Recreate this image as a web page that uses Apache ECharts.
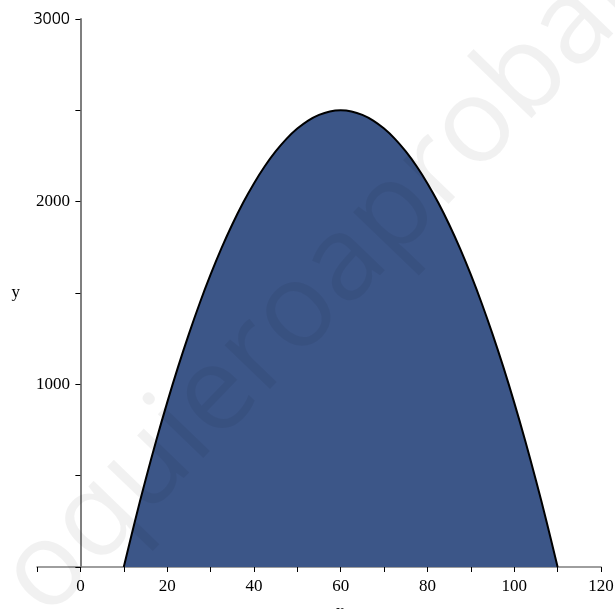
<!DOCTYPE html>
<html><head><meta charset="utf-8">
<script src="https://cdn.jsdelivr.net/npm/echarts@6/dist/echarts.min.js"></script>
<style>html,body{margin:0;padding:0;background:#fff}#c{width:615px;height:609px}</style>
</head><body><div id="c"></div>
<script>
const xValues = [10,12.5,15,17.5,20,22.5,25,27.5,30,32.5,35,37.5,40,42.5,45,47.5,50,52.5,55,57.5,60,62.5,65,67.5,70,72.5,75,77.5,80,82.5,85,87.5,90,92.5,95,97.5,100,102.5,105,107.5,110];
const yValues = [0,244,475,694,900,1094,1275,1444,1600,1744,1875,1994,2100,2194,2275,2344,2400,2444,2475,2494,2500,2494,2475,2444,2400,2344,2275,2194,2100,1994,1875,1744,1600,1444,1275,1094,900,694,475,244,0];
const xTickLabels = [0,20,40,60,80,100,120];
const yTickLabels = [1000,2000,3000];
const watermarkText = 'oquieroaprobar';

const chart = echarts.init(document.getElementById('c'));
chart.setOption({
  animation:false,
  grid:{left:37,right:14,top:19,bottom:42,containLabel:false,outerBoundsMode:'none'},
  xAxis:{type:'value',min:-10,max:120,interval:10,
    name:'x',nameLocation:'middle',nameGap:36,nameMoveOverlap:false,
    nameTextStyle:{fontFamily:'Liberation Serif',fontSize:17,color:'#000',padding:[0,0,0,42]},
    axisLine:{onZero:false,lineStyle:{color:'#7f7f7f',width:1.5}},
    axisTick:{inside:false,length:5,lineStyle:{color:'#000',width:1}},
    axisLabel:{margin:11,fontFamily:'Liberation Serif',fontSize:17,color:'#000',
      formatter:v=>xTickLabels.indexOf(v)>=0?String(v):''},
    splitLine:{show:false}},
  yAxis:{type:'value',min:0,max:3000,interval:500,
    name:'y',nameLocation:'middle',nameGap:17,nameRotate:0,nameMoveOverlap:false,
    nameTextStyle:{fontFamily:'Liberation Serif',fontSize:17,color:'#000'},
    axisLine:{show:true,onZero:true,lineStyle:{color:'#7f7f7f',width:2}},
    axisTick:{show:true,length:5,lineStyle:{color:'#000',width:1}},
    axisLabel:{margin:-33,fontFamily:'Liberation Serif',fontSize:17,color:'#000',
      formatter:v=>yTickLabels.indexOf(v)>=0?(v===3000?'{s|'+v+'}':String(v)):'',
      rich:{s:{fontFamily:'Open Sans',fontSize:16,color:'#000'}}},
    splitLine:{show:false}},
  series:[{type:'line',smooth:0.4,symbol:'none',
    data:xValues.map((x,i)=>[x,yValues[i]]),
    lineStyle:{color:'#000',width:2},
    areaStyle:{color:'#3c5688',opacity:1},z:2}],
  graphic:[{type:'text',z:100,rotation:Math.PI*46/180,
    x:-20,y:556,originX:0,originY:0,
    style:{text:watermarkText,font:'118px "Open Sans"',fill:'rgba(0,0,0,0.055)',textBaseline:'alphabetic'}}]
});
</script></body></html>
